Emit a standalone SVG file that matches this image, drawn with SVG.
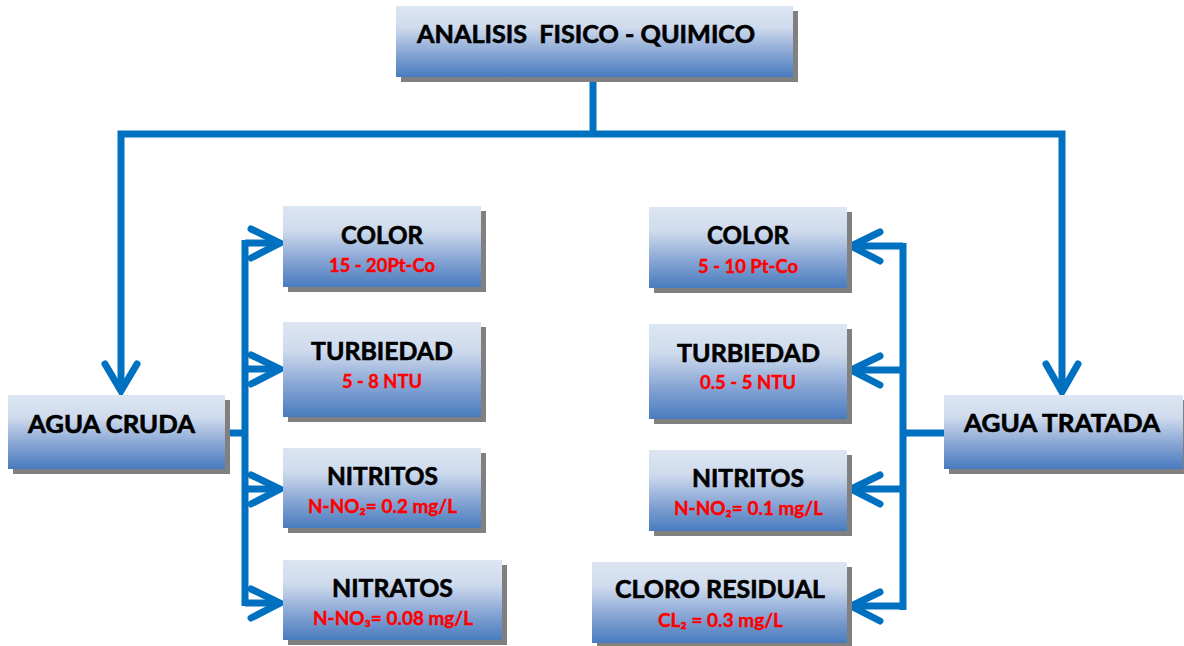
<svg xmlns="http://www.w3.org/2000/svg" width="1184" height="646" viewBox="0 0 1184 646">
<defs>
<linearGradient id="g" x1="0" y1="0" x2="0" y2="1">
<stop offset="0" stop-color="#dce6f2"/>
<stop offset="0.3" stop-color="#cfdbed"/>
<stop offset="0.65" stop-color="#8aa7d5"/>
<stop offset="1" stop-color="#487bbe"/>
</linearGradient>
<style>
.sh{fill:#808080}
.bx{fill:url(#g)}
.t{font-family:Lato,"Liberation Sans",sans-serif;font-weight:bold;font-size:24px;fill:#000;stroke:#000;stroke-width:0.6}
.r{font-family:Lato,"Liberation Sans",sans-serif;font-weight:bold;font-size:18px;fill:#ff0000;stroke:#ff0000;stroke-width:0.4}
.c{fill:none;stroke:#0070c0;stroke-width:7}
.a{fill:none;stroke:#0070c0;stroke-width:7;stroke-linecap:round;stroke-linejoin:miter}
</style>
</defs>
<rect width="1184" height="646" fill="#fff"/>
<g id="connectors">
<path class="c" d="M593 77V134M117.5 134H1065.5M121 134V390M1062 134V392"/>
<polyline class="a" points="105,364 121,391 137,364"/>
<polyline class="a" points="1046,364 1062,392 1078,364"/>
<path class="c" d="M225 433H245M245 240V606M245 243H280M245 369H280M245 489H280M245 603H280"/>
<polyline class="a" points="251,229 280,243 251,258"/>
<polyline class="a" points="251,355 280,369 251,384"/>
<polyline class="a" points="251,475 280,489 251,504"/>
<polyline class="a" points="251,589 280,603 251,618"/>
<path class="c" d="M944 433H903M903 243V610M903 246H851M903 370H851M903 489H851M903 606H851"/>
<polyline class="a" points="880,232 851,246 880,261"/>
<polyline class="a" points="880,356 851,370 880,385"/>
<polyline class="a" points="880,475 851,489 880,504"/>
<polyline class="a" points="880,592 851,606 880,621"/>
</g>
<g id="n-analisis">
<rect class="sh" x="401" y="11" width="397" height="71"/>
<rect class="bx" x="396" y="6" width="397" height="71"/>
<text class="t" x="417" y="43" textLength="338" lengthAdjust="spacingAndGlyphs" xml:space="preserve">ANALISIS  FISICO - QUIMICO</text>
</g>
<g id="n-agua-cruda">
<rect class="sh" x="13" y="400" width="217" height="74"/>
<rect class="bx" x="8" y="395" width="217" height="74"/>
<text class="t" x="28" y="433" textLength="167" lengthAdjust="spacingAndGlyphs">AGUA CRUDA</text>
</g>
<g id="n-color-cruda">
<rect class="sh" x="288" y="211" width="198" height="81"/>
<rect class="bx" x="283" y="206" width="198" height="81"/>
<text class="t" x="341" y="244" textLength="82" lengthAdjust="spacingAndGlyphs">COLOR</text>
<text class="r" x="329" y="272" textLength="106" lengthAdjust="spacingAndGlyphs">15 - 20Pt-Co</text>
</g>
<g id="n-turbiedad-cruda">
<rect class="sh" x="288" y="327" width="198" height="95"/>
<rect class="bx" x="283" y="322" width="198" height="95"/>
<text class="t" x="311" y="360" textLength="142" lengthAdjust="spacingAndGlyphs">TURBIEDAD</text>
<text class="r" x="342" y="388" textLength="80" lengthAdjust="spacingAndGlyphs">5 - 8 NTU</text>
</g>
<g id="n-nitritos-cruda">
<rect class="sh" x="288" y="453" width="198" height="80"/>
<rect class="bx" x="283" y="448" width="198" height="80"/>
<text class="t" x="327" y="485" textLength="111" lengthAdjust="spacingAndGlyphs">NITRITOS</text>
<text class="r" x="308" y="513" textLength="149" lengthAdjust="spacingAndGlyphs">N-NO₂= 0.2 mg/L</text>
</g>
<g id="n-nitratos-cruda">
<rect class="sh" x="288" y="565" width="219" height="80"/>
<rect class="bx" x="283" y="560" width="219" height="80"/>
<text class="t" x="332" y="597" textLength="121" lengthAdjust="spacingAndGlyphs">NITRATOS</text>
<text class="r" x="313" y="625" textLength="160" lengthAdjust="spacingAndGlyphs">N-NO₃= 0.08 mg/L</text>
</g>
<g id="n-color-tratada">
<rect class="sh" x="654" y="212" width="198" height="81"/>
<rect class="bx" x="649" y="207" width="198" height="81"/>
<text class="t" x="707" y="244" textLength="82" lengthAdjust="spacingAndGlyphs">COLOR</text>
<text class="r" x="698" y="273" textLength="100" lengthAdjust="spacingAndGlyphs">5 - 10 Pt-Co</text>
</g>
<g id="n-turbiedad-tratada">
<rect class="sh" x="654" y="329" width="198" height="95"/>
<rect class="bx" x="649" y="324" width="198" height="95"/>
<text class="t" x="677" y="362" textLength="143" lengthAdjust="spacingAndGlyphs">TURBIEDAD</text>
<text class="r" x="700" y="389" textLength="96" lengthAdjust="spacingAndGlyphs">0.5 - 5 NTU</text>
</g>
<g id="n-nitritos-tratada">
<rect class="sh" x="654" y="455" width="198" height="81"/>
<rect class="bx" x="649" y="450" width="198" height="81"/>
<text class="t" x="692" y="487" textLength="112" lengthAdjust="spacingAndGlyphs">NITRITOS</text>
<text class="r" x="674" y="515" textLength="149" lengthAdjust="spacingAndGlyphs">N-NO₂= 0.1 mg/L</text>
</g>
<g id="n-cloro">
<rect class="sh" x="597" y="567" width="255" height="81"/>
<rect class="bx" x="592" y="562" width="255" height="81"/>
<text class="t" x="615" y="598" textLength="210" lengthAdjust="spacingAndGlyphs">CLORO RESIDUAL</text>
<text class="r" x="658" y="627" textLength="125" lengthAdjust="spacingAndGlyphs">CL₂ = 0.3 mg/L</text>
</g>
<g id="n-agua-tratada">
<rect class="sh" x="949" y="400" width="239" height="74"/>
<rect class="bx" x="944" y="395" width="239" height="74"/>
<text class="t" x="964" y="432" textLength="196" lengthAdjust="spacingAndGlyphs">AGUA TRATADA</text>
</g>
</svg>
